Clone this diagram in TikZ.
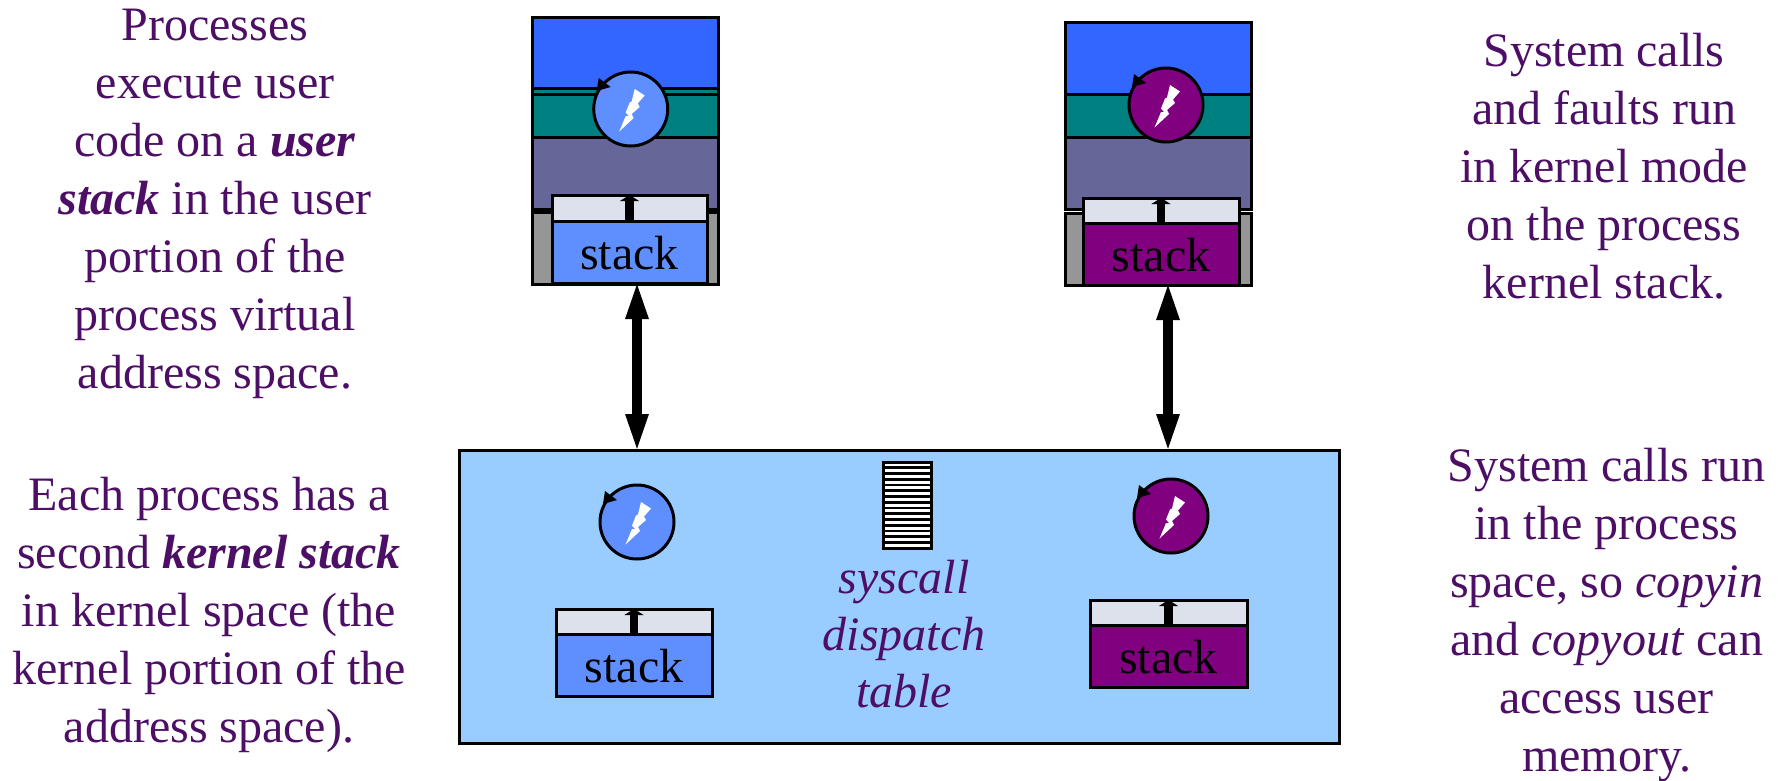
\documentclass[tikz,border=0pt]{standalone}
\usepackage{fontspec}
\setmainfont{Liberation Serif}
\usetikzlibrary{arrows.meta}
\definecolor{txt}{HTML}{4D0F66}
\definecolor{ublue}{HTML}{3366FF}
\definecolor{uteal}{HTML}{008080}
\definecolor{ugray}{HTML}{666699}
\definecolor{ggray}{HTML}{969696}
\definecolor{lite}{HTML}{DDE1EB}
\definecolor{sblue}{HTML}{5F8FFF}
\definecolor{spurp}{HTML}{800080}
\definecolor{kblue}{HTML}{99CCFF}
\tikzset{
  x=1pt,y=-1pt,
  ln/.style={draw=black,line width=3pt},
  seg/.style={ln,anchor=north west,inner sep=0pt,outer sep=0pt},
  label text/.style={text=txt,align=center,font=\fontsize{48}{58}\selectfont,inner sep=0pt},
  stacktxt/.style={font=\fontsize{48}{50}\selectfont,text=black,inner sep=0pt},
  thr/.style={ln,circle,inner sep=0pt,outer sep=0pt,minimum size=74pt},
  dbl/.style={line width=10.5pt,{Triangle[length=40pt,width=20pt]}-{Triangle[length=40pt,width=20pt]}},
  up/.style={line width=8.5pt,-{Triangle[length=6pt,width=19pt]}}
}
\newcommand{\thread}[4]{%
  \node[thr,fill=#4] (#1) at (#2,#3) {};
  \fill[white,shift={(#2,#3)}] (4,-20) -- (14,-13.5) -- (7,-5.5) -- (9,-2) -- (1,5) -- (3,9) -- (-11.5,22.5) -- (-5,7) -- (-2,7) -- (-5,3.5) -- (-1,-6.5) -- (1,-7.5) -- cycle;
  \fill[black,shift={(#2,#3)}] (-32,-31) -- (-20,-22) -- (-34,-18) -- cycle;}
\newcommand{\stk}[7]{%
  \node[seg,fill=lite,minimum width={#4-#2},minimum height={#5-#3}] (#1t) at (#2,#3) {};
  \node[seg,fill=#7,minimum width={#4-#2},minimum height={#6-#5}] (#1b) at (#2,#5) {};
  \node[stacktxt,yshift=-1.5pt] (#1s) at (#1b.center) {stack};
  \draw[up] (#1b.north) -- (#1t.north);}
\begin{document}
\begin{tikzpicture}
\useasboundingbox (0,0) rectangle (1783,780);
% left user space
\node[seg,fill=ublue,minimum width=186,minimum height=72] (a1) at (532,17) {};
\node[seg,fill=uteal,minimum width=186,minimum height=49] (a2) at (532,88) {};
\draw[line width=3pt] (532,94) -- (718,94);
\node[seg,fill=ugray,minimum width=186,minimum height=72] (a3) at (532,137) {};
\node[seg,fill=ggray,minimum width=186,minimum height=72] (a4) at (532,212) {};
\thread{ta}{630.7}{109}{sblue}
% right user space
\node[seg,fill=ublue,minimum width=186,minimum height=72] (b1) at (1065,22) {};
\node[seg,fill=uteal,minimum width=186,minimum height=43] (b2) at (1065,94) {};
\node[seg,fill=ugray,minimum width=186,minimum height=72] (b3) at (1065,137) {};
\node[seg,fill=ggray,minimum width=186,minimum height=72] (b4) at (1065,213) {};
\thread{tb}{1166}{105}{spurp}
% kernel
\node[seg,fill=kblue,minimum width=880,minimum height=293] (k) at (459.5,450) {};
\thread{tc}{637}{522}{sblue}
\thread{td}{1171}{516}{spurp}
% stacks
\stk{sa}{552}{195}{707}{221}{283}{sblue}
\stk{sb}{1083}{198}{1239}{223}{285}{spurp}
\stk{sc}{556}{609}{712}{634}{696}{sblue}
\stk{sd}{1090}{600}{1247}{625}{687}{spurp}
% syscall table
\node[seg,fill=white,minimum width=48,minimum height=86] (tab) at (883,462) {};
\foreach \i in {1,...,14} \draw[black,line width=2.6pt] (883,462+\i*5.75) -- (931,462+\i*5.75);
\node[label text,font=\fontsize{48}{57}\selectfont\itshape] (tabl) at (904,634) {syscall\\dispatch\\table};
% connectors
\coordinate (ua) at (637,279);
\coordinate (ka) at (637,454);
\coordinate (ub) at (1168,280);
\coordinate (kb) at (1168,454);
\draw[dbl] (ua) -- (ka);
\draw[dbl] (ub) -- (kb);
% labels
\node[label text] (l1) at (215,203.5) {Processes\\execute user\\code on a \textbf{\textit{user}}\\\textbf{\textit{stack}} in the user\\portion of the\\process virtual\\address space.};
\node[label text] (l2) at (209,614.5) {Each process has a\\second \textbf{\textit{kernel stack}}\\in kernel space (the\\kernel portion of the\\address space).};
\node[label text] (l3) at (1604,166.5) {System calls\\and faults run\\in kernel mode\\on the process\\kernel stack.};
\node[label text] (l4) at (1606.6,615) {System calls run\\in the process\\space, so \textit{copyin}\\and \textit{copyout} can\\access user\\memory.};
\end{tikzpicture}
\end{document}
